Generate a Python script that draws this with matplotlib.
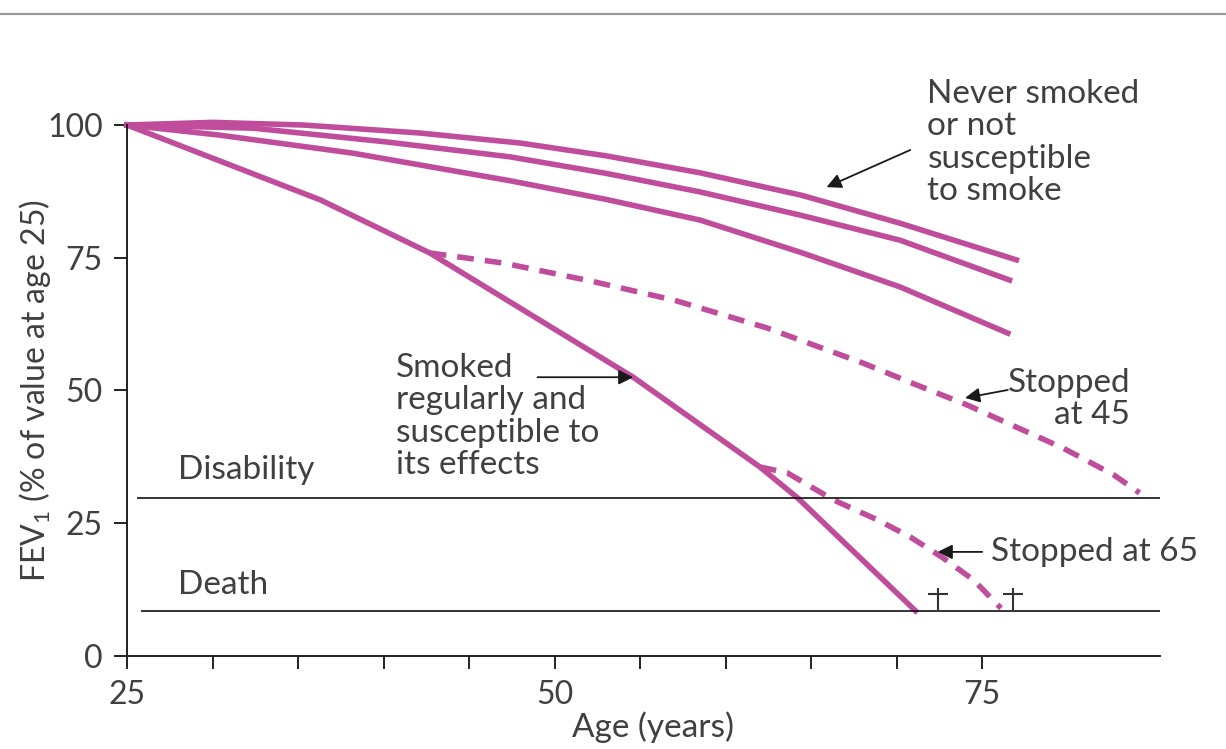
import matplotlib
matplotlib.use("Agg")
import matplotlib.pyplot as plt
from matplotlib.lines import Line2D
from matplotlib.path import Path

plt.rcParams['font.family'] = ['Lato', 'DejaVu Sans']
plt.rcParams['mathtext.fontset'] = 'custom'
plt.rcParams['mathtext.rm'] = 'Lato'
plt.rcParams['mathtext.it'] = 'Lato'

# FEV1 (% of value at age 25) against age
never_age = [25, 30, 35.3, 42.1, 48, 53, 58.5, 64.4, 70.2, 77.0]
never_fev = [100, 100.5, 100, 98.5, 96.6, 94.2, 91.0, 86.8, 81.5, 74.6]

mid_age = [25, 32.4, 40.2, 47.4, 53, 58.5, 64.4, 70.2, 76.6]
mid_fev = [100, 99.4, 96.8, 94.0, 90.9, 87.4, 83.0, 78.3, 70.8]

low_age = [25, 30.4, 38.2, 47.4, 53, 58.5, 64.4, 70.2, 76.5]
low_fev = [100, 98.1, 94.7, 89.5, 86.0, 82.1, 76.0, 69.5, 60.8]

smoker_age = [25, 36.3, 42.7, 54.6, 62.0, 64.2, 71.1]
smoker_fev = [100, 85.9, 75.9, 52.5, 35.6, 29.8, 8.5]

stop45_age = [42.7, 47, 52, 57, 62.4, 68, 71.2, 74.1, 77, 79.7, 82.7, 84.2]
stop45_fev = [75.9, 74.0, 70.7, 67.0, 61.8, 55.2, 51.0, 47.3, 43.1, 39.2, 34.1, 30.7]

stop65_age = [62.0, 63.6, 66.3, 68.9, 70.8, 72.7, 74.5, 76.1]
stop65_fev = [35.6, 34.5, 29.4, 25.6, 22.4, 18.5, 14.3, 9.0]

disability_level = 29.8
death_level = 8.5
death_ages = [72.4, 76.8]

x_ticks = [25, 30, 35, 40, 45, 50, 55, 60, 65, 70, 75]
x_labels = ['25', '', '', '', '', '50', '', '', '', '', '75']
y_ticks = [0, 25, 50, 75, 100]

pink = '#c04d9c'
ink = '#404040'

fig = plt.figure(figsize=(12.26, 7.49), dpi=100)
ax = fig.add_axes([0.1036, 0.1242, 0.8426, 0.7089])

for a, f in [(never_age, never_fev), (mid_age, mid_fev), (low_age, low_fev),
             (smoker_age, smoker_fev)]:
    ax.plot(a, f, color=pink, lw=4, solid_joinstyle='round', clip_on=False)
for a, f in [(stop45_age, stop45_fev), (stop65_age, stop65_fev)]:
    ax.plot(a, f, color=pink, lw=4, dashes=(3, 2), clip_on=False)

ax.hlines(disability_level, 25.6, 85.4, color='#111111', lw=1.2)
ax.hlines(death_level, 25.8, 85.4, color='#111111', lw=1.2)

# little crosses marking death
cross = Path([(0, -1), (0, 1), (-0.9, 0.4), (0.9, 0.4)],
             [Path.MOVETO, Path.LINETO, Path.MOVETO, Path.LINETO])
ax.plot(death_ages, [death_level + 2.2] * len(death_ages), ls='none',
        marker=cross, markersize=16.5, markeredgewidth=1.5, color='#333333')

ax.set_xlim(25, 85.4)
ax.set_ylim(0, 100)
ax.spines['top'].set_visible(False)
ax.spines['right'].set_visible(False)
for s in ['left', 'bottom']:
    ax.spines[s].set_linewidth(1.4)
    ax.spines[s].set_color('#222222')
ax.set_xticks(x_ticks, x_labels)
ax.set_yticks(y_ticks)
ax.tick_params(axis='both', direction='out', length=9.5, width=1.4,
               color='#222222', labelsize=23, labelcolor=ink, pad=8)

fig.text(35 / 1226, 1 - 391 / 749, 'FEV$_1$ (% of value at age 25)',
         rotation=90, ha='center', va='center', fontsize=23, color=ink)
fig.text(653 / 1226, 1 - 727 / 749, 'Age (years)', ha='center',
         va='center', fontsize=24, color=ink)

txt = dict(fontsize=24, color=ink, linespacing=1.1)
arrow = dict(arrowstyle='-|>', color='#1a1a1a', lw=1.3, mutation_scale=22,
             shrinkA=0, shrinkB=0)

ax.text(71.8, 96.7, 'Never smoked\nor not\nsusceptible\nto smoke',
        ha='left', va='center', **txt)
ax.annotate('', xy=(65.9, 88.3), xytext=(70.8, 95.3), arrowprops=arrow,
            annotation_clip=False)

ax.text(40.7, 45.1, 'Smoked\nregularly and\nsusceptible to\nits effects',
        ha='left', va='center', **txt)
ax.annotate('', xy=(54.6, 52.5), xytext=(49.0, 52.5), arrowprops=arrow)

ax.text(83.65, 48.4, 'Stopped\nat 45', ha='right', va='center',
        multialignment='right', **txt)
ax.annotate('', xy=(74.0, 48.6), xytext=(76.5, 50.1), arrowprops=arrow)

ax.text(75.5, 19.6, 'Stopped at 65', ha='left', va='center', **txt)
ax.annotate('', xy=(72.4, 19.6), xytext=(75.0, 19.6), arrowprops=arrow)

ax.text(28.0, 35.0, 'Disability', ha='left', va='center', **txt)
ax.text(28.0, 13.4, 'Death', ha='left', va='center', **txt)

# grey rule across the top of the page
fig.add_artist(Line2D([0, 1], [1 - 14 / 749] * 2, color='#999999', lw=1.6))

fig.savefig('out.png', dpi=100)
